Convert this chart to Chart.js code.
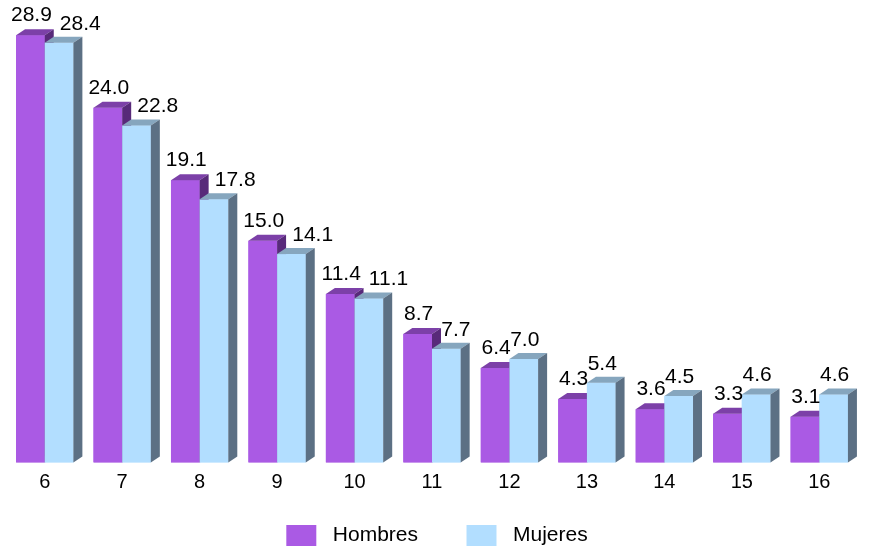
<!DOCTYPE html>
<html lang="es">
<head>
  <meta charset="UTF-8">
  <title>Hombres / Mujeres</title>
  <script src="https://cdn.jsdelivr.net/npm/chart.js@4/dist/chart.umd.min.js"></script>
  <style>
    html, body { margin: 0; padding: 0; background: #fff; overflow: hidden; }
    #wrap { width: 878px; height: 556px; position: relative; }
  </style>
</head>
<body>
  <div id="wrap"><canvas id="c"></canvas></div>
  <script>
    const categories = ['6', '7', '8', '9', '10', '11', '12', '13', '14', '15', '16'];
    const hombres = [28.9, 24.0, 19.1, 15.0, 11.4, 8.7, 6.4, 4.3, 3.6, 3.3, 3.1];
    const mujeres = [28.4, 22.8, 17.8, 14.1, 11.1, 7.7, 7.0, 5.4, 4.5, 4.6, 4.6];

    const FONT = '"Liberation Sans", Arial, sans-serif';
    const DX = 9, DY = 6;

    // front, top, side colours for each series
    const shades = [
      { front: 'rgb(170,90,228)', top: 'rgb(124,64,168)', side: 'rgb(88,42,122)' },
      { front: 'rgb(178,222,255)', top: 'rgb(134,166,190)', side: 'rgb(92,112,132)' }
    ];

    // legend swatches: 30x22 box with some blank space round it
    function swatch(color) {
      const c = document.createElement('canvas');
      c.width = 46; c.height = 22;
      const g = c.getContext('2d');
      g.fillStyle = color;
      g.fillRect(10, 0, 30, 22);
      return c;
    }
    const icons = shades.map(s => swatch(s.front));

    // redraws bars as boxes, per category, so Mujeres covers the side of Hombres
    const boxes = {
      id: 'boxes',
      afterLayout(chart) {
        // let the tick labels show below the squeezed x axis
        const x = chart.scales.x;
        x.bottom = x.top + 40;
      },
      afterDatasetsDraw(chart) {
        const ctx = chart.ctx;
        const metas = chart.data.datasets.map((d, i) => chart.getDatasetMeta(i));
        ctx.save();
        for (let j = 0; j < categories.length; j++) {
          metas.forEach((meta, di) => {
            const b = meta.data[j];
            const l = b.x - b.width / 2, r = b.x + b.width / 2;
            const s = shades[di];
            ctx.fillStyle = s.front;
            ctx.fillRect(l, b.y, r - l, b.base - b.y);
            ctx.fillStyle = s.top;
            ctx.beginPath();
            ctx.moveTo(l, b.y); ctx.lineTo(l + DX, b.y - DY);
            ctx.lineTo(r + DX, b.y - DY); ctx.lineTo(r, b.y);
            ctx.closePath(); ctx.fill();
            ctx.fillStyle = s.side;
            ctx.beginPath();
            ctx.moveTo(r, b.y); ctx.lineTo(r + DX, b.y - DY);
            ctx.lineTo(r + DX, b.base - DY); ctx.lineTo(r, b.base);
            ctx.closePath(); ctx.fill();
          });
        }
        // value labels; Mujeres label moves right when it would sit on the Hombres one
        ctx.fillStyle = '#000';
        ctx.font = '21px ' + FONT;
        ctx.textAlign = 'center';
        ctx.textBaseline = 'alphabetic';
        const hm = metas[0], mm = metas[1];
        for (let j = 0; j < categories.length; j++) {
          const hb = hm.data[j], mb = mm.data[j];
          const ht = hombres[j].toFixed(1), mt = mujeres[j].toFixed(1);
          const hx = hb.x + 1;
          ctx.fillText(ht, hx, hb.y - 14);
          let mx = mb.x + 1;
          if (mujeres[j] <= hombres[j]) {
            const hRight = hx + ctx.measureText(ht).width / 2;
            mx = Math.max(mx, hRight + 8 + ctx.measureText(mt).width / 2);
          }
          ctx.fillText(mt, mx, mb.y - 13);
        }
        ctx.restore();
      }
    };

    new Chart(document.getElementById('c'), {
      type: 'bar',
      data: {
        labels: categories,
        datasets: [
          { label: 'Hombres', data: hombres, backgroundColor: shades[0].front },
          { label: 'Mujeres', data: mujeres, backgroundColor: shades[1].front }
        ]
      },
      options: {
        responsive: true,
        maintainAspectRatio: false,
        animation: false,
        categoryPercentage: 0.74,
        barPercentage: 1.0,
        layout: { padding: { top: 19, left: 6, right: 20, bottom: 0 } },
        scales: {
          x: {
            grid: { display: false, drawTicks: false },
            border: { display: false },
            ticks: { color: '#000', font: { family: FONT, size: 20 }, padding: 8 },
            afterFit(scale) { scale.height = 24; }
          },
          y: { display: false, min: 0, max: 30 }
        },
        plugins: {
          legend: {
            position: 'bottom',
            labels: {
              usePointStyle: true,
              pointStyleWidth: 46,
              boxHeight: 22,
              padding: 38.5,
              color: '#000',
              font: { family: FONT, size: 21 },
              generateLabels(chart) {
                return Chart.defaults.plugins.legend.labels.generateLabels(chart)
                  .map(it => Object.assign(it, { pointStyle: icons[it.datasetIndex] }));
              }
            }
          },
          tooltip: { enabled: false }
        }
      },
      plugins: [boxes]
    });
  </script>
</body>
</html>
